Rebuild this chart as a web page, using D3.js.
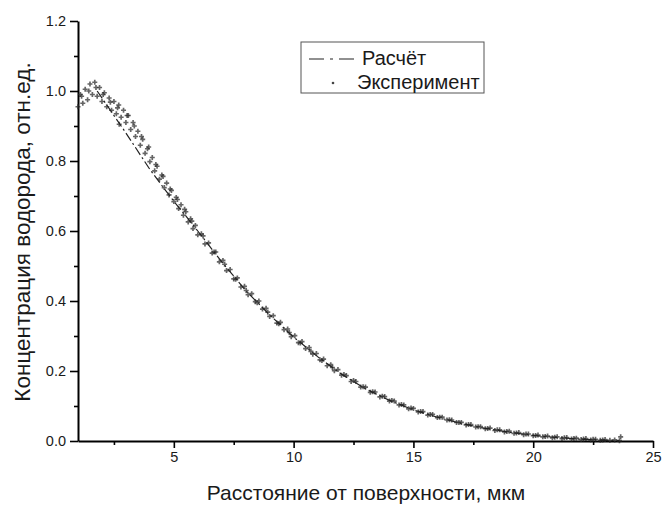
<!DOCTYPE html>
<html>
<head>
<meta charset="utf-8">
<script src="https://cdn.jsdelivr.net/npm/d3@7"></script>
<style>
  body { margin: 0; background: #fff; }
  svg text { font-family: "Liberation Sans", Arial, sans-serif; fill: #1a1a1a; }
</style>
</head>
<body>
<div id="paper"></div>
<script>
// experimental points (x, мкм ; y, отн.ед.)
var expX = [1.0,1.1,1.2,1.3,1.4,1.5,1.6,1.7,1.8,1.9,2.0,2.1,2.2,2.3,2.4,2.5,2.6,2.7,2.8,2.9,
  3.0,3.1,3.2,3.3,3.4,3.5,3.6,3.7,3.8,3.9,4.0,4.1,4.2,4.3,4.4,4.5,4.6,4.7,4.8,4.9,
  5.0,5.1,5.2,5.3,5.4,5.5,5.6,5.7,5.8,5.9,6.0,
  6.15,6.3,6.45,6.6,6.75,6.9,7.05,7.2,7.35,7.5,7.65,7.8,7.95,8.1,8.25,8.4,8.55,8.7,8.85,9.0,
  9.15,9.3,9.45,9.6,9.75,9.9,10.05,10.2,10.35,10.5,10.65,10.8,10.95,11.1,11.25,11.4,11.55,11.7,11.85,12.0,
  12.2,12.4,12.6,12.8,13.0,13.2,13.4,13.6,13.8,14.0,14.2,14.4,14.6,14.8,15.0,15.2,15.4,15.6,15.8,16.0,
  16.2,16.4,16.6,16.8,17.0,17.2,17.4,17.6,17.8,18.0,18.2,18.4,18.6,18.8,19.0,19.2,19.4,19.6,19.8,20.0,
  20.2,20.4,20.6,20.8,21.0,21.2,21.4,21.6,21.8,22.0,22.2,22.4,22.6,22.8,23.0,23.2,23.4,23.6,
  1.15,1.45,1.75,2.05,2.35,2.65,2.72,3.05,3.35,3.65,3.95,4.25,4.55,4.85,5.15,5.45,5.75,23.65,
  6.22,6.68,7.12,7.58,8.02,8.48,8.92,9.38,9.82,10.28,10.72,11.18,11.62,12.1,12.5,12.9,13.3,13.7,
  14.1,14.5,14.9,15.3,15.7,16.1,16.5,16.9,17.3,17.7,18.1,18.5,18.9,19.3,19.7,20.1,20.5,20.9,21.3,21.7,22.1,22.5,22.9];
var expY = [0.955,0.99,0.965,1.005,0.975,1.02,0.99,1.025,0.985,1.01,0.97,0.995,0.955,0.98,0.945,0.97,0.935,0.96,0.925,0.945,
  0.91,0.93,0.89,0.91,0.87,0.885,0.845,0.862,0.822,0.835,0.798,0.81,0.772,0.785,0.748,0.76,0.724,0.737,0.703,0.716,
  0.684,0.696,0.664,0.675,0.645,0.655,0.626,0.635,0.607,0.616,0.589,
  0.592,0.563,0.566,0.537,0.54,0.512,0.516,0.487,0.49,0.463,0.466,0.44,0.442,0.418,0.421,0.398,0.4,0.377,0.379,0.356,
  0.358,0.337,0.339,0.318,0.32,0.298,0.301,0.281,0.284,0.264,0.267,0.248,0.25,0.232,0.234,0.215,0.218,0.201,0.204,0.188,
  0.187,0.17,0.17,0.154,0.154,0.139,0.14,0.126,0.127,0.114,0.114,0.103,0.103,0.092,0.093,0.083,0.084,0.074,0.076,0.067,
  0.068,0.06,0.06,0.053,0.053,0.046,0.047,0.04,0.041,0.035,0.037,0.03,0.032,0.026,0.028,0.022,0.024,0.018,0.02,0.015,
  0.017,0.012,0.014,0.009,0.012,0.007,0.01,0.006,0.008,0.004,0.007,0.003,0.005,0.002,0.004,0.002,0.003,0.001,
  0.985,1.0,1.01,0.99,0.968,0.952,0.905,0.93,0.9,0.87,0.84,0.79,0.756,0.72,0.69,0.662,0.628,0.012,
  0.586,0.54,0.505,0.462,0.43,0.395,0.368,0.335,0.31,0.28,0.256,0.23,0.21,0.19,0.173,0.155,0.141,0.128,
  0.116,0.104,0.094,0.084,0.076,0.068,0.061,0.053,0.047,0.041,0.036,0.032,0.027,0.023,0.02,0.016,0.013,0.011,0.009,0.007,0.006,0.005,0.003];

// calculated curve
var calcX = [1.8,2.2,3.0,4.0,4.5,5.0,5.5,6.0,7.0,8.0,9.0,10.0,11.0,12.0,13.0,14.0,15.0,16.0,17.0,18.0,19.0,20.0,21.0,22.0,23.0,23.6];
var calcY = [1.0,0.96,0.88,0.776,0.73,0.685,0.643,0.6,0.512,0.43,0.36,0.297,0.241,0.191,0.149,0.116,0.089,0.068,0.05,0.036,0.025,0.016,0.01,0.005,0.002,0.001];

var xTicks = [5, 10, 15, 20, 25];
var xMinor = [2.5, 7.5, 12.5, 17.5, 22.5];
var yTicks = [0, 0.2, 0.4, 0.6, 0.8, 1.0, 1.2];
var yMinor = [0.1, 0.3, 0.5, 0.7, 0.9, 1.1];
var legendNames = ["Расчёт", "Эксперимент"];

var width = 663, height = 506;

var svg = d3.select("#paper").append("svg")
    .attr("width", width)
    .attr("height", height);

var x = d3.scaleLinear().domain([1, 25]).range([78, 653]);
var y = d3.scaleLinear().domain([0, 1.2]).range([441, 21]);

// axes
svg.append("g").attr("transform", "translate(0," + y(0) + ")")
    .call(d3.axisBottom(x).tickValues(xTicks).tickSize(7).tickSizeOuter(0).tickPadding(4));
svg.append("g").attr("transform", "translate(0," + y(0) + ")")
    .call(d3.axisBottom(x).tickValues(xMinor).tickSize(4).tickFormat(""))
    .select(".domain").remove();

svg.append("g").attr("transform", "translate(" + x(1) + ",0)")
    .call(d3.axisLeft(y).tickValues(yTicks).tickSize(8).tickSizeOuter(0).tickPadding(4)
      .tickFormat(d3.format(".1f")));
svg.append("g").attr("transform", "translate(" + x(1) + ",0)")
    .call(d3.axisLeft(y).tickValues(yMinor).tickSize(4).tickFormat(""))
    .select(".domain").remove();

svg.selectAll(".domain").attr("stroke", "#000").attr("stroke-width", 2);
svg.selectAll(".tick line").attr("stroke", "#000").attr("stroke-width", 1.6);
svg.selectAll(".tick text").attr("font-size", 14.5)
    .style("font-family", "Liberation Sans, Arial, sans-serif");

// experimental scatter
var pts = expX.map(function(d, i) { return {x: d, y: expY[i]}; });
var sym = d3.symbol().type(d3.symbolCross).size(14);
svg.append("g").selectAll("path")
    .data(pts)
  .enter().append("path")
    .attr("d", sym)
    .attr("transform", function(d) { return "translate(" + x(d.x) + "," + y(d.y) + ")"; })
    .attr("fill", "#2a2a2a")
    .attr("opacity", 0.72);

// calculated line
var calc = calcX.map(function(d, i) { return {x: d, y: calcY[i]}; });
var line = d3.line().x(function(d) { return x(d.x); }).y(function(d) { return y(d.y); });
svg.append("path")
    .datum(calc)
    .attr("d", line)
    .attr("fill", "none")
    .attr("stroke", "#222")
    .attr("stroke-width", 1.2)
    .attr("stroke-dasharray", "9,3,2,3");

// axis titles
svg.append("text")
    .attr("x", 366).attr("y", 500)
    .attr("text-anchor", "middle")
    .attr("font-size", 21)
    .text("Расстояние от поверхности, мкм");
svg.append("text")
    .attr("transform", "translate(30,232) rotate(-90)")
    .attr("text-anchor", "middle")
    .attr("font-size", 22.5)
    .text("Концентрация водорода, отн.ед.");

// legend
var lg = svg.append("g");
lg.append("rect")
    .attr("x", 301).attr("y", 42).attr("width", 183).attr("height", 51)
    .attr("fill", "#fff").attr("stroke", "#555").attr("stroke-width", 1);
lg.append("line")
    .attr("x1", 309).attr("x2", 357).attr("y1", 59).attr("y2", 59)
    .attr("stroke", "#222").attr("stroke-width", 1.2)
    .attr("stroke-dasharray", "15,6,3,6");
lg.append("text").attr("x", 362).attr("y", 65).attr("font-size", 20).text(legendNames[0]);
lg.append("circle").attr("cx", 333).attr("cy", 83).attr("r", 1.3).attr("fill", "#444");
lg.append("text").attr("x", 357).attr("y", 89).attr("font-size", 20).text(legendNames[1]);
</script>
</body>
</html>
